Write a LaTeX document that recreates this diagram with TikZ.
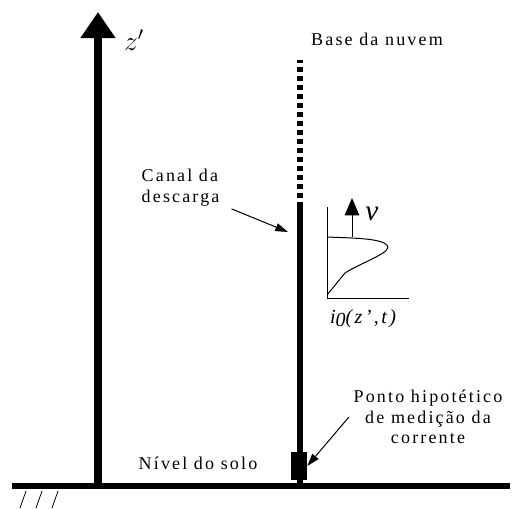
\documentclass[tikz,border=0pt]{standalone}
\usepackage{fontspec}
\setmainfont{Liberation Serif}
\newfontfamily\spaced{Liberation Serif}[LetterSpace=12]
\usetikzlibrary{arrows.meta}
\tikzset{
  lbl/.style={font=\spaced\fontsize{13.5}{15.5}\selectfont},
  thinarrow/.style={line width=0.75pt,-{Triangle[width=6pt,length=9.5pt]}}
}
\begin{document}
\begin{tikzpicture}[x=0.75pt,y=-0.75pt]
\useasboundingbox (0,0) rectangle (514,508);
% ground and hatching
\draw[line width=4.5pt] (12,486) -- (510,486);
\foreach \x in {20,36,52}
  \draw[line width=0.6pt] (\x,508) -- (\x+6,491);
% z' axis
\draw[line width=6pt,-{Triangle[width=25pt,length=19.5pt]}] (98,486) -- (98,12);
\node (zlab) at (134,40) {\fontsize{20}{22}\selectfont $z'$};
% discharge channel
\draw[line width=4.5pt] (300,486) -- (300,207);
\draw[line width=4.5pt,dash pattern=on 3.75pt off 3pt] (300,207) -- (300,60);
\node[fill=black,minimum width=12pt,minimum height=21pt,inner sep=0pt] (meter) at (299,466) {};
% labels
\node[lbl] (base) at (377,39) {Base da nuvem};
\node[lbl,align=left,anchor=west] (canal) at (137,188) {Canal da\\descarga};
\node[lbl] (solo) at (198,463) {Nível do solo};
\node[lbl,align=center] (ponto) at (428,417) {Ponto hipotético\\de medição da\\corrente};
\coordinate (canaltip) at (288,232);
\draw[thinarrow,shorten <=6pt] (canal) -- (canaltip);
\draw[thinarrow] (ponto.west) -- (meter.east);
% current profile
\coordinate (orig) at (327,298);
\draw[line width=0.75pt] (327,207) -- (orig) -- (409,298);
\draw[line width=0.75pt] (327,295) -- (345,273)
  .. controls (362,262) and (394,252) .. (387,245)
  .. controls (380,238) and (350,238) .. (327,237);
\draw[line width=0.75pt,-{Triangle[width=11pt,length=13pt]}] (352,237) -- (352,198);
\node[font=\fontsize{22}{24}\selectfont\itshape] (vlab) at (372,214) {v};
\node[font=\spaced\fontsize{15}{17}\selectfont\itshape] (ilab) at (363,319) {i\raisebox{-2pt}{0}(z’,t)};
\end{tikzpicture}
\end{document}
